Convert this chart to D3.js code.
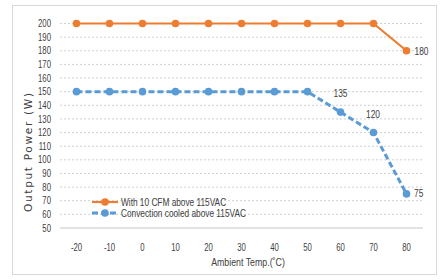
<!DOCTYPE html>
<html><head><meta charset="utf-8">
<script src="https://cdn.jsdelivr.net/npm/d3@7"></script>
<style>body{margin:0;background:#fff}svg{display:block}</style>
</head><body>
<svg id="c" width="441" height="280"></svg>
<script>
const categories = [-20,-10,0,10,20,30,40,50,60,70,80];
const fanValues = [200,200,200,200,200,200,200,200,200,200,180];
const convValues = [150,150,150,150,150,150,150,150,135,120,75];
const yTicks = [50,60,70,80,90,100,110,120,130,140,150,160,170,180,190,200];
const seriesNames = ["With 10 CFM above 115VAC","Convection cooled above 115VAC"];
const fanLabels = [{cat:80,val:180}];
const convLabels = [{cat:60,val:135},{cat:70,val:120},{cat:80,val:75}];

const svg = d3.select("#c");
const FONT = "'Liberation Sans',Arial,sans-serif";
const TXT = "#404040";
const orange = "#ED7D31", blue = "#5B9BD5";

// narrow text helper: horizontally compressed text
function ntext(g, x, y, str, size, sx, anchor){
  return g.append("text").attr("transform",`translate(${x},${y}) scale(${sx},1)`)
    .attr("text-anchor",anchor||"start").attr("font-family",FONT)
    .attr("font-size",size).attr("fill",TXT).text(str);
}

svg.append("rect").attr("x",12.5).attr("y",5.5).attr("width",424).attr("height",269)
  .attr("fill","#fff").attr("stroke","#d9d9d9");

const x = d3.scaleBand().domain(categories).range([60,423]);
const cx = c => x(c)+x.bandwidth()/2;
const y = d3.scaleLinear().domain([50,200]).range([228,23.5]);

// grid
svg.append("g").selectAll("line").data(yTicks.filter(t=>t>50)).join("line")
  .attr("x1",60).attr("x2",423).attr("y1",d=>y(d)).attr("y2",d=>y(d))
  .attr("stroke","#d0d0d0").attr("stroke-width",1).attr("stroke-dasharray","2,2");

// y tick labels
const yg = svg.append("g");
yTicks.forEach(t=>ntext(yg,51,y(t)+3.6,String(t),10.5,0.74,"end"));

// x axis line
svg.append("line").attr("x1",60).attr("x2",423).attr("y1",228).attr("y2",228)
  .attr("stroke","#d9d9d9").attr("stroke-width",1.5);
const xg = svg.append("g");
categories.forEach(c=>ntext(xg,cx(c),251,String(c),10.5,0.74,"middle"));

// titles
svg.append("text").attr("transform","translate(32,152.5) rotate(-90)").attr("text-anchor","middle")
  .attr("font-family","'DejaVu Sans',sans-serif").attr("font-size",10.5).attr("fill",TXT)
  .attr("textLength",119).attr("lengthAdjust","spacing").text("Output Power (W)");
ntext(svg,248,266,"Ambient Temp.(\u02DAC)",11,0.8,"middle");

const line = d3.line().x((d,i)=>cx(categories[i])).y(d=>y(d));

svg.append("path").datum(convValues).attr("d",line).attr("fill","none")
  .attr("stroke",blue).attr("stroke-width",3).attr("stroke-dasharray","6,3");
svg.append("g").selectAll("circle").data(convValues).join("circle")
  .attr("cx",(d,i)=>cx(categories[i])).attr("cy",d=>y(d)).attr("r",3.8).attr("fill",blue);

svg.append("path").datum(fanValues).attr("d",line).attr("fill","none")
  .attr("stroke",orange).attr("stroke-width",2.2);
svg.append("g").selectAll("circle").data(fanValues).join("circle")
  .attr("cx",(d,i)=>cx(categories[i])).attr("cy",d=>y(d)).attr("r",3.8).attr("fill",orange);

// data labels
const lab = svg.append("g");
fanLabels.forEach(d=>ntext(lab,cx(d.cat)+8,y(d.val)+4,String(d.val),10.5,0.8));
const convOff = {60:[-7,-15],70:[-7.5,-14.5],80:[7.5,3]};
convLabels.forEach(d=>ntext(lab,cx(d.cat)+convOff[d.cat][0],y(d.val)+convOff[d.cat][1],String(d.val),10.5,0.8));

// legend
const lg = svg.append("g");
const legItems = [{name:seriesNames[0],color:orange,dash:null,w:2.2,y:202},
                  {name:seriesNames[1],color:blue,dash:"6,3",w:3,y:213}];
legItems.forEach(it=>{
  lg.append("line").attr("x1",92).attr("x2",118).attr("y1",it.y).attr("y2",it.y)
    .attr("stroke",it.color).attr("stroke-width",it.w).attr("stroke-dasharray",it.dash);
  lg.append("circle").attr("cx",105).attr("cy",it.y).attr("r",3.8).attr("fill",it.color);
  ntext(lg,121,it.y+3.5,it.name,10,0.83);
});
</script>
</body></html>
